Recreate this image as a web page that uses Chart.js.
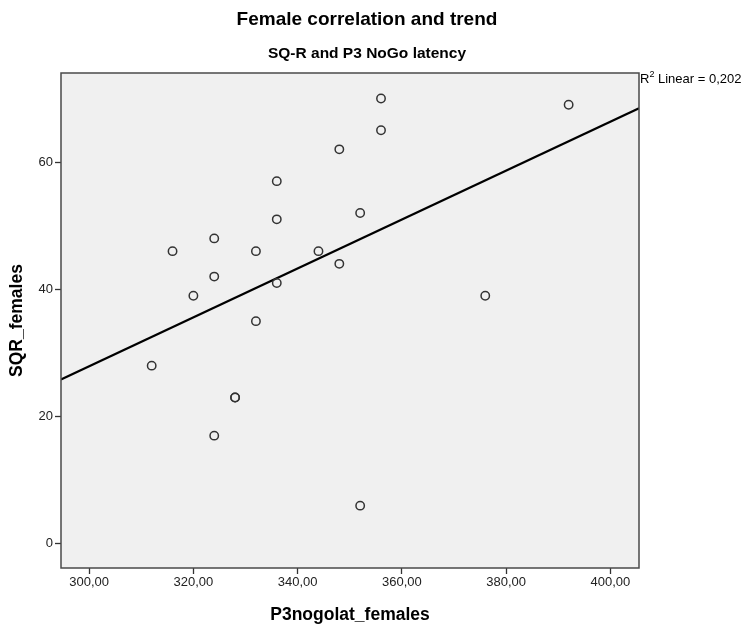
<!DOCTYPE html>
<html>
<head>
<meta charset="utf-8">
<title>Female correlation and trend</title>
<script src="https://cdn.jsdelivr.net/npm/chart.js@4.4.1/dist/chart.umd.min.js"></script>
<style>
  html, body { margin: 0; padding: 0; background: #fff; }
</style>
</head>
<body>
<canvas id="scatter" width="744" height="629"></canvas>
<script>
// P3 NoGo latency and SQ-R score, one entry per female participant
const latency = [312, 316, 320, 324, 324, 324, 328, 328, 332, 332, 336, 336, 336, 344, 348, 348, 352, 352, 356, 356, 376, 392];
const sqr = [28, 46, 39, 48, 42, 17, 23, 23, 46, 35, 57, 51, 41, 46, 62, 44, 52, 6, 70, 65, 39, 69];

const xTicks = [300, 320, 340, 360, 380, 400];
const yTicks = [0, 20, 40, 60];
const xRange = [294.6, 405.5];
const yRange = [-3.8, 74];

const FONT = '"Liberation Sans", Arial, sans-serif';

// least squares fit, same as the SPSS "Linear" fit line
function fitLine(xs, ys) {
    const n = xs.length;
    const mx = xs.reduce((a, b) => a + b, 0) / n;
    const my = ys.reduce((a, b) => a + b, 0) / n;
    let sxy = 0, sxx = 0, syy = 0;
    for (let i = 0; i < n; i++) {
        sxy += (xs[i] - mx) * (ys[i] - my);
        sxx += (xs[i] - mx) ** 2;
        syy += (ys[i] - my) ** 2;
    }
    const slope = sxy / sxx;
    return { slope: slope, intercept: my - slope * mx, r2: (sxy * sxy) / (sxx * syy) };
}

const fit = fitLine(latency, sqr);
const points = latency.map((x, i) => ({ x: x, y: sqr[i] }));
const fitPoints = xRange.map(x => ({ x: x, y: fit.intercept + fit.slope * x }));

const comma = v => v.toFixed(2).replace('.', ',');

// grey plot box, frame, titles and the R² note
const spssFrame = {
    id: 'spssFrame',
    beforeDraw(chart) {
        const { ctx, chartArea: a } = chart;
        ctx.save();
        ctx.fillStyle = '#f0f0f0';
        ctx.fillRect(a.left, a.top, a.right - a.left, a.bottom - a.top);
        ctx.restore();
    },
    afterDraw(chart) {
        const { ctx, chartArea: a } = chart;
        ctx.save();
        ctx.strokeStyle = '#4a4a4a';
        ctx.lineWidth = 1.5;
        ctx.strokeRect(a.left, a.top, a.right - a.left, a.bottom - a.top);

        // SPSS centres the titles on the whole chart, not the plot box
        const cx = 367;
        ctx.fillStyle = '#000';
        ctx.textAlign = 'center';
        ctx.textBaseline = 'middle';
        ctx.font = 'bold 19px ' + FONT;
        ctx.fillText('Female correlation and trend', cx, 20);
        ctx.font = 'bold 15.5px ' + FONT;
        ctx.fillText('SQ-R and P3 NoGo latency', cx, 54);

        // R² Linear = 0,202
        let x = a.right + 1;
        const y = 79;
        ctx.textAlign = 'left';
        ctx.font = '13px ' + FONT;
        ctx.fillText('R', x, y);
        x += ctx.measureText('R').width;
        ctx.font = '9px ' + FONT;
        ctx.fillText('2', x, y - 4);
        x += ctx.measureText('2').width;
        ctx.font = '13px ' + FONT;
        ctx.fillText(' Linear = ' + fit.r2.toFixed(3).replace('.', ','), x, y);
        ctx.restore();
    }
};

new Chart(document.getElementById('scatter'), {
    type: 'scatter',
    data: {
        datasets: [
            {
                label: 'SQR_females',
                data: points,
                pointStyle: 'circle',
                pointRadius: 4.2,
                pointHoverRadius: 4.2,
                borderWidth: 1.5,
                borderColor: '#333',
                backgroundColor: 'rgba(0,0,0,0)'
            },
            {
                type: 'line',
                label: 'Linear fit',
                data: fitPoints,
                borderColor: '#000',
                borderWidth: 2.2,
                pointRadius: 0,
                fill: false
            }
        ]
    },
    options: {
        responsive: false,
        animation: false,
        layout: { padding: { top: 73, right: 105, bottom: 0, left: 0 } },
        plugins: {
            legend: { display: false },
            tooltip: { enabled: false }
        },
        scales: {
            x: {
                type: 'linear',
                min: xRange[0],
                max: xRange[1],
                afterBuildTicks: s => { s.ticks = xTicks.map(v => ({ value: v })); },
                afterFit: s => { s.height = 61; },
                grid: { drawOnChartArea: false, drawTicks: true, tickLength: 6, tickColor: '#333', tickWidth: 1.3 },
                border: { display: false },
                ticks: {
                    color: '#222',
                    font: { family: FONT, size: 13 },
                    padding: 1,
                    maxRotation: 0,
                    callback: v => comma(v)
                },
                title: {
                    display: true,
                    text: 'P3nogolat_females',
                    color: '#000',
                    font: { family: FONT, size: 17.5, weight: 'bold' },
                    padding: { top: 0, bottom: 3 }
                }
            },
            y: {
                type: 'linear',
                min: yRange[0],
                max: yRange[1],
                afterBuildTicks: s => { s.ticks = yTicks.map(v => ({ value: v })); },
                afterFit: s => { s.width = 61; },
                grid: { drawOnChartArea: false, drawTicks: true, tickLength: 6, tickColor: '#333', tickWidth: 1.3 },
                border: { display: false },
                ticks: {
                    color: '#222',
                    font: { family: FONT, size: 13 },
                    padding: 2,
                    callback: v => String(v)
                },
                title: {
                    display: true,
                    text: 'SQR_females',
                    color: '#000',
                    font: { family: FONT, size: 17.5, weight: 'bold' },
                    padding: { top: 7, bottom: 0 }
                }
            }
        }
    },
    plugins: [spssFrame]
});
</script>
</body>
</html>
